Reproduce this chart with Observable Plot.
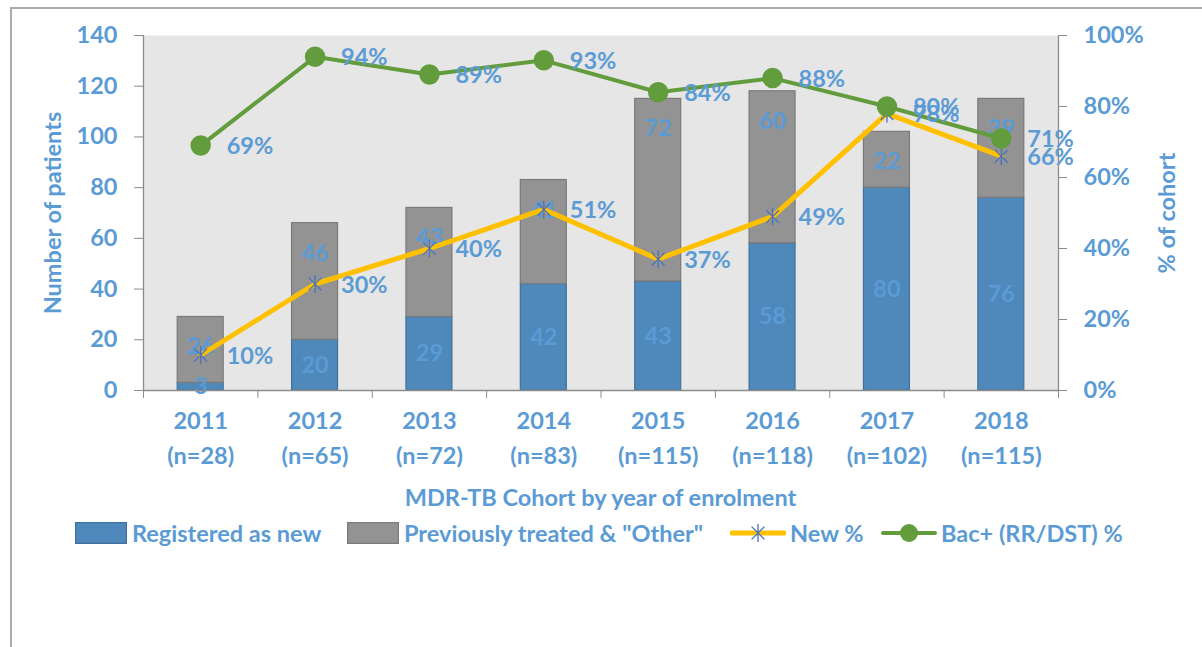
<!DOCTYPE html>
<html>
<head>
<meta charset="utf-8">
<script src="https://cdn.jsdelivr.net/npm/d3@7"></script>
<script src="https://cdn.jsdelivr.net/npm/@observablehq/plot@0.6"></script>
<style>
  body { margin: 0; background: #fff; font-family: Lato, "Open Sans", sans-serif; }
  #wrap { position: relative; width: 1202px; height: 647px; overflow: hidden; }
  #border { position: absolute; left: 10px; top: 7px; width: 1400px; height: 800px;
            border-top: 2px solid #ababab; border-left: 2px solid #ababab; }
  #chart { position: absolute; left: 0; top: 0; }
  .txt { color: #5B9BD5; font-weight: bold; font-size: 23.5px; white-space: nowrap; }
  #xtitle { position: absolute; top: 484px; left: 143px; width: 915px; text-align: center; line-height: 26px; }
  .item { position: absolute; top: 520px; height: 26px; display: flex; align-items: center; }
  .item span { line-height: 26px; }
</style>
</head>
<body>
<div id="wrap">
  <div id="border"></div>
  <div id="chart"></div>
  <div id="xtitle" class="txt"></div>
  <div id="legend"></div>
</div>
<script>
// ---- data ----
const years = ["2011", "2012", "2013", "2014", "2015", "2016", "2017", "2018"];
const cohortN = [28, 65, 72, 83, 115, 118, 102, 115];
const registeredNew = [3, 20, 29, 42, 43, 58, 80, 76];
const previouslyTreated = [26, 46, 43, 41, 72, 60, 22, 39];
const newPct = [10, 30, 40, 51, 37, 49, 78, 66];
const bacPct = [69, 94, 89, 93, 84, 88, 80, 71];
const countTicks = [0, 20, 40, 60, 80, 100, 120, 140];
const pctTicks = [0, 20, 40, 60, 80, 100];
const seriesNames = ["Registered as new", "Previously treated & \"Other\"", "New %", "Bac+ (RR/DST) %"];
const xTitle = "MDR-TB Cohort by year of enrolment";
const yTitleLeft = "Number of patients";
const yTitleRight = "% of cohort";

// ---- styles ----
const FS = 23.5;
const BLUE_TXT = "#5B9BD5";
const BAR_BLUE = "#4F88BB", BAR_BLUE_STROKE = "#41719C";
const BAR_GRAY = "#939393", BAR_GRAY_STROKE = "#7A7A7A";
const YELLOW = "#FFC000", GREEN = "#629C3C", STAR = "#4472C4";
const AXIS = "#8C8C8C";
const countMax = 140;            // left axis max
const pctScale = countMax / 100; // map % to left-axis units

// custom star symbol (X + vertical bar, Excel style)
const excelStar = {
  draw(ctx, size) {
    const r = Math.sqrt(size / Math.PI);
    const d = r * Math.SQRT1_2;
    ctx.moveTo(-d, -d); ctx.lineTo(d, d);
    ctx.moveTo(-d, d); ctx.lineTo(d, -d);
    ctx.moveTo(0, -r); ctx.lineTo(0, r);
  }
};

const rows = years.map((y, i) => ({i, year: y, n: cohortN[i], reg: registeredNew[i], prev: previouslyTreated[i], newP: newPct[i], bacP: bacPct[i]}));
const segments = rows.flatMap(d => [
  {i: d.i, y1: 0, y2: d.reg, v: d.reg, key: "reg"},
  {i: d.i, y1: d.reg, y2: d.reg + d.prev, v: d.prev, key: "prev"}
]);
const regSegs = segments.filter(d => d.key === "reg");
const prevSegs = segments.filter(d => d.key === "prev");

const chart = Plot.plot({
  width: 1202,
  height: 485,
  marginLeft: 143,
  marginRight: 144,
  marginTop: 35,
  marginBottom: 95,
  style: {fontFamily: "Lato, 'Open Sans', sans-serif", fontSize: FS + "px", fontWeight: "bold", color: BLUE_TXT, background: "transparent"},
  x: {type: "linear", domain: [0, years.length], axis: null},
  y: {domain: [0, countMax], axis: null},
  marks: [
    Plot.frame({fill: "#E7E6E6", stroke: null}),
    // bars
    Plot.rectY(segments, {
      x1: d => d.i, x2: d => d.i + 1, y1: "y1", y2: "y2",
      insetLeft: 34.2, insetRight: 34.2,
      fill: d => d.key === "reg" ? BAR_BLUE : BAR_GRAY,
      stroke: d => d.key === "reg" ? BAR_BLUE_STROKE : BAR_GRAY_STROKE,
      strokeWidth: 1.2
    }),
    // bar labels: blue centred, gray at inside end
    Plot.text(regSegs, {
      x: d => d.i + 0.5, y: d => (d.y1 + d.y2) / 2, text: d => String(d.v),
      fill: BLUE_TXT, fontSize: FS, fontWeight: "bold"
    }),
    Plot.text(prevSegs, {
      x: d => d.i + 0.5, y: "y2", dy: 30, text: d => String(d.v),
      fill: BLUE_TXT, fontSize: FS, fontWeight: "bold"
    }),
    // axis lines
    Plot.ruleY([0], {stroke: AXIS, strokeWidth: 1.3}),
    Plot.ruleX([0, years.length], {stroke: AXIS, strokeWidth: 1.3}),
    // lines
    Plot.line(rows, {x: d => d.i + 0.5, y: d => d.newP * pctScale, stroke: YELLOW, strokeWidth: 5}),
    Plot.dot(rows, {x: d => d.i + 0.5, y: d => d.newP * pctScale, symbol: excelStar, r: 9, stroke: STAR, strokeWidth: 1.3, fill: "none"}),
    Plot.line(rows, {x: d => d.i + 0.5, y: d => d.bacP * pctScale, stroke: GREEN, strokeWidth: 4}),
    Plot.dot(rows, {x: d => d.i + 0.5, y: d => d.bacP * pctScale, r: 9.5, fill: GREEN, stroke: GREEN}),
    // percent labels
    Plot.text(rows, {x: d => d.i + 0.5, y: d => d.newP * pctScale, text: d => d.newP + "%", dx: 26, dy: 1, textAnchor: "start", fill: BLUE_TXT, fontSize: FS, fontWeight: "bold"}),
    Plot.text(rows, {x: d => d.i + 0.5, y: d => d.bacP * pctScale, text: d => d.bacP + "%", dx: 26, dy: 1, textAnchor: "start", fill: BLUE_TXT, fontSize: FS, fontWeight: "bold"}),
    // axes
    Plot.axisY({anchor: "left", ticks: countTicks, tickSize: 9, tickPadding: 17, stroke: AXIS, fill: BLUE_TXT, label: null, fontSize: FS}),
    Plot.axisY({anchor: "right", ticks: pctTicks.map(v => v * pctScale), tickFormat: d => Math.round(d / pctScale) + "%", tickSize: 8, tickPadding: 17, stroke: AXIS, fill: BLUE_TXT, label: null, fontSize: FS}),
    Plot.axisX({ticks: d3.range(years.length + 1), tickSize: 8, tickFormat: () => "", stroke: AXIS, label: null}),
    Plot.axisX({ticks: rows.map(d => d.i + 0.5), tickSize: 0, tickPadding: 14, lineHeight: 1.49,
      tickFormat: d => { const r = rows[Math.floor(d)]; return `${r.year}\n(n=${r.n})`; },
      fill: BLUE_TXT, label: null, fontSize: FS}),
    // axis titles
    Plot.text([yTitleLeft], {frameAnchor: "left", dx: -90, rotate: -90, textAnchor: "middle", fill: BLUE_TXT, fontSize: FS, fontWeight: "bold"}),
    Plot.text([yTitleRight], {frameAnchor: "right", dx: 109, rotate: -90, textAnchor: "middle", fill: BLUE_TXT, fontSize: FS, fontWeight: "bold"})
  ]
});
document.getElementById("chart").appendChild(chart);
document.getElementById("xtitle").textContent = xTitle;

// ---- legend ----
const legend = document.getElementById("legend");
const starPath = "M-6.4,-6.4L6.4,6.4M-6.4,6.4L6.4,-6.4M0,-9L0,9";
const legendItems = [
  {left: 75, icon: `<svg width="52" height="22"><rect x="0.6" y="0.6" width="50.8" height="20.8" fill="${BAR_BLUE}" stroke="${BAR_BLUE_STROKE}" stroke-width="1.2"/></svg>`, gap: 5},
  {left: 347, icon: `<svg width="52" height="22"><rect x="0.6" y="0.6" width="50.8" height="20.8" fill="${BAR_GRAY}" stroke="${BAR_GRAY_STROKE}" stroke-width="1.2"/></svg>`, gap: 5},
  {left: 730, icon: `<svg width="56" height="22"><line x1="2" y1="11" x2="54" y2="11" stroke="${YELLOW}" stroke-width="5" stroke-linecap="round"/><path transform="translate(28,11)" d="${starPath}" stroke="${STAR}" stroke-width="1.3" fill="none"/></svg>`, gap: 4},
  {left: 881, icon: `<svg width="56" height="22"><line x1="2" y1="11" x2="54" y2="11" stroke="${GREEN}" stroke-width="4" stroke-linecap="round"/><circle cx="28" cy="11" r="9" fill="${GREEN}"/></svg>`, gap: 4}
];
legendItems.forEach((it, k) => {
  const div = document.createElement("div");
  div.className = "item txt";
  div.style.left = it.left + "px";
  div.innerHTML = it.icon + `<span style="margin-left:${it.gap}px"></span>`;
  div.querySelector("span").textContent = seriesNames[k];
  legend.appendChild(div);
});
</script>
</body>
</html>
